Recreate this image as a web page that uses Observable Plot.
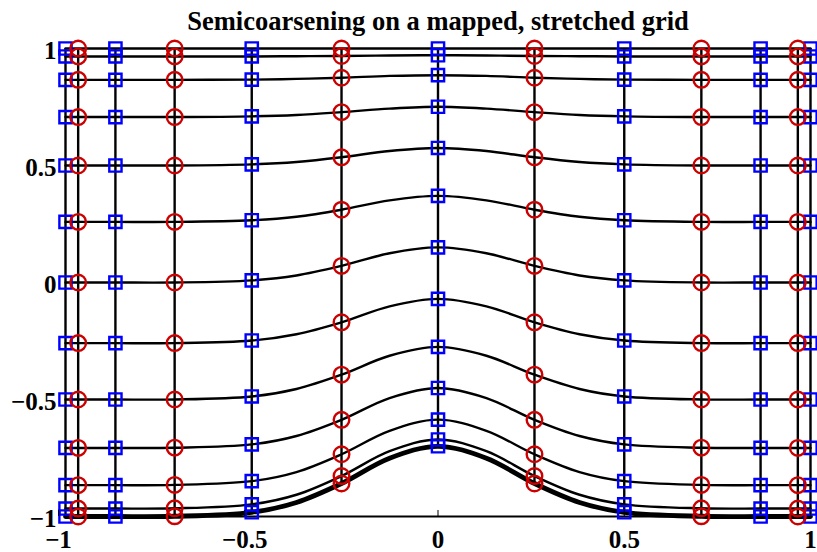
<!DOCTYPE html>
<html><head><meta charset="utf-8">
<script src="https://cdn.jsdelivr.net/npm/d3@7"></script>
<script src="https://cdn.jsdelivr.net/npm/@observablehq/plot@0.6"></script>
<style>body{margin:0;background:#fff}</style>
</head><body><div id="chart"></div>
<script>
const title = "Semicoarsening on a mapped, stretched grid";
// x positions sampled along each grid curve
const curveX = [-1, -0.966, -0.866, -0.707, -0.5, -0.38, -0.259, -0.13, 0, 0.13, 0.259, 0.38, 0.5, 0.707, 0.866, 0.966, 1];
// y value of each horizontal grid curve at curveX (top to bottom)
const row1  = [1, 1, 1, 1, 1, 1, 1, 1, 1, 1, 1, 1, 1, 1, 1, 1, 1];
const row2  = [0.966, 0.966, 0.966, 0.966, 0.966, 0.967, 0.968, 0.970, 0.971, 0.970, 0.968, 0.967, 0.966, 0.966, 0.966, 0.966, 0.966];
const row3  = [0.866, 0.866, 0.866, 0.866, 0.867, 0.870, 0.875, 0.883, 0.886, 0.883, 0.875, 0.870, 0.867, 0.866, 0.866, 0.866, 0.866];
const row4  = [0.707, 0.707, 0.707, 0.707, 0.710, 0.716, 0.728, 0.743, 0.751, 0.743, 0.728, 0.716, 0.710, 0.707, 0.707, 0.707, 0.707];
const row5  = [0.5, 0.5, 0.5, 0.5, 0.505, 0.515, 0.535, 0.562, 0.575, 0.562, 0.535, 0.515, 0.505, 0.5, 0.5, 0.5, 0.5];
const row6  = [0.259, 0.259, 0.259, 0.259, 0.266, 0.281, 0.311, 0.351, 0.370, 0.351, 0.311, 0.281, 0.266, 0.259, 0.259, 0.259, 0.259];
const row7  = [0, 0, 0, 0, 0.009, 0.030, 0.071, 0.125, 0.150, 0.125, 0.071, 0.030, 0.009, 0, 0, 0, 0];
const row8  = [-0.259, -0.259, -0.259, -0.259, -0.248, -0.221, -0.170, -0.102, -0.070, -0.102, -0.170, -0.221, -0.248, -0.259, -0.259, -0.259, -0.259];
const row9  = [-0.5, -0.5, -0.5, -0.5, -0.487, -0.455, -0.394, -0.313, -0.275, -0.313, -0.394, -0.455, -0.487, -0.5, -0.5, -0.5, -0.5];
const row10 = [-0.707, -0.707, -0.707, -0.706, -0.692, -0.656, -0.587, -0.494, -0.451, -0.494, -0.587, -0.656, -0.692, -0.706, -0.707, -0.707, -0.707];
const row11 = [-0.866, -0.866, -0.866, -0.865, -0.849, -0.810, -0.734, -0.634, -0.586, -0.634, -0.734, -0.810, -0.849, -0.865, -0.866, -0.866, -0.866];
const row12 = [-0.966, -0.966, -0.966, -0.965, -0.948, -0.907, -0.827, -0.721, -0.671, -0.721, -0.827, -0.907, -0.948, -0.965, -0.966, -0.966, -0.966];
const row13 = [-1, -1, -1, -0.999, -0.982, -0.940, -0.859, -0.751, -0.700, -0.751, -0.859, -0.940, -0.982, -0.999, -1, -1, -1];
const rows = [row1, row2, row3, row4, row5, row6, row7, row8, row9, row10, row11, row12, row13];
// grid columns carrying markers
const squareX = [-1, -0.866, -0.5, 0, 0.5, 0.866, 1];
const circleX = [-0.966, -0.707, -0.259, 0.259, 0.707, 0.966];
const xTicks = [-1, -0.5, 0, 0.5, 1];
const yTicks = [-1, -0.5, 0, 0.5, 1];

const points = rows.flatMap((r, i) => r.map((y, j) => ({x: curveX[j], y, row: i})));
const last = rows.length - 1;
const gridLines = points.filter(d => d.row !== last);
const boundary = points.filter(d => d.row === last);
const squares = points.filter(d => squareX.includes(d.x));
const circles = points.filter(d => circleX.includes(d.x));
const verticals = [...squareX, ...circleX].map(x => {
  const j = curveX.indexOf(x);
  return {x, y1: rows[last][j], y2: rows[0][j]};
});

const fmt = d3.format("");
const font = "'Liberation Serif', 'Times New Roman', serif";
const chart = Plot.plot({
  width: 817, height: 552,
  marginLeft: 65, marginRight: 7, marginTop: 48, marginBottom: 36,
  x: {domain: [-1, 1], label: null},
  y: {domain: [-1, 1], label: null},
  style: {fontFamily: font, fontWeight: "bold", fontSize: "25px", background: "white", color: "black", overflow: "visible"},
  marks: [
    Plot.ruleY([-1], {stroke: "black", strokeWidth: 2}),
    Plot.ruleX(verticals, {x: "x", y1: "y1", y2: "y2", stroke: "black", strokeWidth: 2.4}),
    Plot.line(gridLines, {x: "x", y: "y", z: "row", curve: "catmull-rom", stroke: "black", strokeWidth: 2.4}),
    Plot.line(boundary, {x: "x", y: "y", curve: "catmull-rom", stroke: "black", strokeWidth: 4.8}),
    Plot.dot(squares, {x: "x", y: "y", symbol: "square", r: 6.9, stroke: "#0000ff", strokeWidth: 2.4}),
    Plot.dot(circles, {x: "x", y: "y", symbol: "circle", r: 7.8, stroke: "#cc0000", strokeWidth: 2.4}),
    Plot.axisX(xTicks.filter(d => d < 0), {tickSize: -6, tickPadding: 20, fontSize: 25, dx: -7, tickFormat: fmt, label: null}),
    Plot.axisX(xTicks.filter(d => d >= 0), {tickSize: -6, tickPadding: 20, fontSize: 25, tickFormat: fmt, label: null}),
    Plot.axisY(yTicks, {tickSize: 0, tickPadding: 9, fontSize: 25, dy: 2, tickFormat: fmt, label: null}),
    Plot.text([title], {frameAnchor: "top", dy: -37, fontSize: 26.5, fontWeight: "bold", fill: "black"})
  ]
});
document.getElementById("chart").appendChild(chart);
</script>
</body></html>
